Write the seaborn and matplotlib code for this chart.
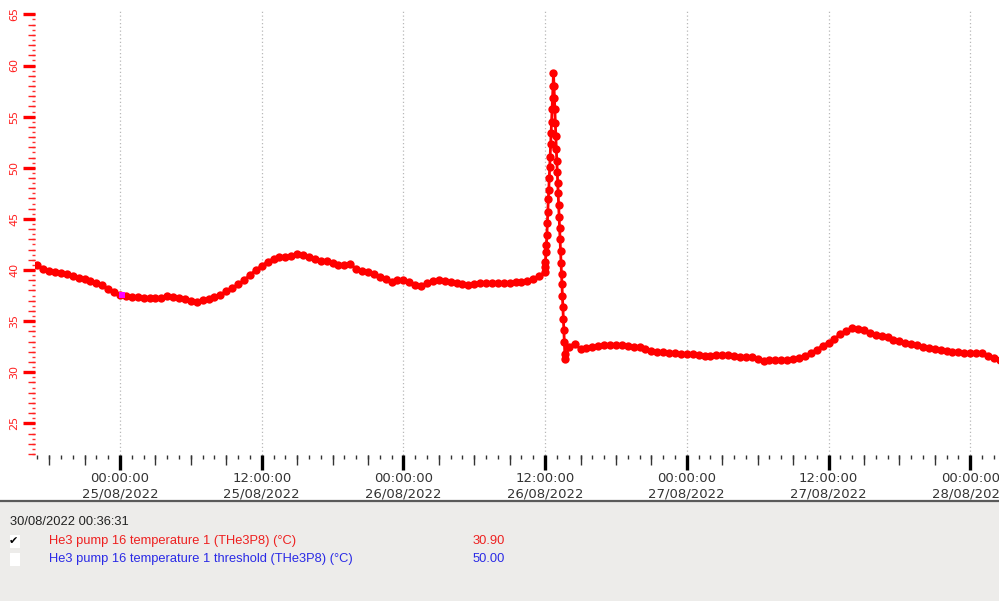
import numpy as np
import pandas as pd
import matplotlib
matplotlib.use("Agg")
import matplotlib.pyplot as plt
import seaborn as sns
from matplotlib.ticker import MultipleLocator, FuncFormatter, NullFormatter
from matplotlib.patches import Rectangle
from matplotlib.lines import Line2D
from datetime import timedelta

# ---------------- data ----------------
REF = pd.Timestamp("2022-08-25 00:00:00")

pre_start = "2022-08-24 17:00"   # 30-min readings before the spike
pre_temp = [40.5, 40.1, 39.9, 39.8, 39.7, 39.6, 39.4, 39.2, 39.1, 38.9, 38.7, 38.5, 38.1, 37.8,
            37.6, 37.5, 37.4, 37.35, 37.3, 37.3, 37.25, 37.3, 37.5, 37.4, 37.3, 37.2, 37.0, 36.9,
            37.1, 37.2, 37.4, 37.6, 37.9, 38.2, 38.6, 39.0, 39.5, 40.0, 40.4, 40.8, 41.1, 41.3,
            41.3, 41.4, 41.6, 41.5, 41.3, 41.1, 40.9, 40.9, 40.7, 40.5, 40.5, 40.6, 40.1, 39.9,
            39.8, 39.6, 39.3, 39.1, 38.8, 39.0, 39.0, 38.8, 38.5, 38.4, 38.7, 38.9, 39.0, 38.9,
            38.8, 38.7, 38.6, 38.5, 38.6, 38.7, 38.7, 38.7, 38.7, 38.7, 38.7, 38.8, 38.8, 38.9,
            39.1, 39.4]

spike_start = "2022-08-26 11:57"  # fast readings during the spike
spike_temp = [39.8, 40.3, 40.8, 41.8, 42.45, 43.4, 44.6, 45.7, 46.9, 47.8, 49.0, 50.1, 51.1,
              52.3, 53.4, 54.5, 55.7, 56.8, 58.0, 59.3, 58.0, 56.8, 55.7, 54.4, 53.1, 51.8,
              50.7, 49.6, 48.5, 47.5, 46.4, 45.2, 44.1, 43.0, 41.9, 40.7, 39.6, 38.6, 37.5,
              36.4, 35.2, 34.1, 33.0, 31.8, 31.3]

post_start = "2022-08-26 14:00"  # 30-min readings after the spike
post_temp = [32.5, 32.8, 32.25, 32.4, 32.5, 32.6, 32.65, 32.7, 32.65, 32.65, 32.6, 32.5,
             32.45, 32.3, 32.1, 32.0, 31.95, 31.9, 31.85, 31.8, 31.75, 31.75, 31.7, 31.6,
             31.6, 31.65, 31.7, 31.7, 31.6, 31.5, 31.5, 31.5, 31.3, 31.1, 31.2, 31.2, 31.2,
             31.2, 31.3, 31.4, 31.6, 31.9, 32.2, 32.6, 32.9, 33.3, 33.7, 34.0, 34.3, 34.2,
             34.1, 33.8, 33.6, 33.5, 33.4, 33.2, 33.1, 32.9, 32.8, 32.65, 32.5, 32.4, 32.3,
             32.2, 32.1, 32.0, 31.95, 31.9, 31.85, 31.85, 31.85, 31.6, 31.4, 31.2]

cursor_time = "2022-08-25 00:10"
cursor_value = 37.6

timestamp_text = "30/08/2022 00:36:31"
series_names = ["He3 pump 16 temperature 1 (THe3P8) (°C)",
                "He3 pump 16 temperature 1 threshold (THe3P8) (°C)"]
series_values = ["30.90", "50.00"]

# ---------------- build frame ----------------
def hours(ts):
    return (pd.DatetimeIndex(ts) - REF) / pd.Timedelta(hours=1)

t_pre = pd.date_range(pre_start, periods=len(pre_temp), freq="30min")
t_spk = pd.date_range(spike_start, periods=len(spike_temp), freq="144s")
t_post = pd.date_range(post_start, periods=len(post_temp), freq="30min")

df = pd.DataFrame({
    "t": np.concatenate([hours(t_pre), hours(t_spk), hours(t_post)]),
    "temp": pre_temp + spike_temp + post_temp,
})

# ---------------- figure ----------------
sns.set_style("white")
plt.rcParams["font.family"] = ["DejaVu Sans"]
plt.rcParams["xtick.bottom"] = True
plt.rcParams["ytick.left"] = True

W, H = 999, 601
fig = plt.figure(figsize=(W / 100, H / 100), dpi=100)
fig.patch.set_facecolor("white")

# bottom grey panel
fig.patches.append(Rectangle((0, 0), 1, 1 - 502 / H, transform=fig.transFigure,
                             facecolor="#edecea", edgecolor="none", zorder=0))
fig.lines.append(Line2D([0, 1], [1 - 501 / H, 1 - 501 / H], transform=fig.transFigure,
                        color="#5a5a5a", linewidth=1.6, zorder=1))

ax = fig.add_axes([35 / W, 1 - 455 / H, (W - 35) / W, (455 - 10) / H])
ax.set_facecolor("white")

sns.lineplot(data=df, x="t", y="temp", ax=ax, color="#ff0000", linewidth=2.0,
             marker="o", markersize=6.0, markeredgewidth=0, estimator=None,
             sort=False, zorder=3)
ax.scatter([hours([pd.Timestamp(cursor_time)])[0]], [cursor_value], marker="s",
           s=16, color="#ff00ff", zorder=4, linewidths=0)

px_per_h = 141.7 / 12
ax.set_xlim((35 - 120) / px_per_h, (999 - 120) / px_per_h)
ax.set_ylim(40 - (455 - 270) / 10.225, 40 + (270 - 10) / 10.225)
ax.set_xlabel("")
ax.set_ylabel("")
for s in ax.spines.values():
    s.set_visible(False)

# x ticks
def fmt_time(x, pos):
    d = REF.to_pydatetime() + timedelta(hours=float(x))
    return d.strftime("%H:%M:%S\n%d/%m/%Y")

ax.xaxis.set_major_locator(MultipleLocator(12))
ax.xaxis.set_major_formatter(FuncFormatter(fmt_time))
ax.xaxis.set_minor_locator(MultipleLocator(3))
ax.tick_params(axis="x", which="both", bottom=True)
ax.tick_params(axis="x", which="major", direction="out", length=10.8, width=2.4,
               color="black", labelsize=9.5, labelcolor="#333333", pad=1.5)
ax.tick_params(axis="x", which="minor", direction="out", length=7.0, width=1.0,
               color="#333333")

secx = ax.secondary_xaxis("bottom")
secx.xaxis.set_major_locator(MultipleLocator(1))
secx.xaxis.set_major_formatter(NullFormatter())
secx.tick_params(axis="x", bottom=True, direction="out", length=2.8, width=1.0,
                 color="#333333")
for s in secx.spines.values():
    s.set_visible(False)

# y ticks
ax.yaxis.set_major_locator(MultipleLocator(5))
ax.yaxis.set_minor_locator(MultipleLocator(1))
ax.tick_params(axis="y", which="both", left=True)
ax.tick_params(axis="y", which="major", direction="out", length=8.6, width=2.4,
               color="#ff0000", labelsize=8.0, labelcolor="#ff2020", pad=2.5)
ax.tick_params(axis="y", which="minor", direction="out", length=5.0, width=1.0,
               color="#ff2020")
for lab in ax.get_yticklabels():
    lab.set_rotation(90)
    lab.set_va("center")

secy = ax.secondary_yaxis("left")
secy.yaxis.set_major_locator(MultipleLocator(0.5))
secy.yaxis.set_major_formatter(NullFormatter())
secy.tick_params(axis="y", left=True, direction="out", length=2.2, width=1.0,
                 color="#ff3030")
for s in secy.spines.values():
    s.set_visible(False)

ax.xaxis.grid(True, which="major", color="#b8b8b8", linestyle=(0, (1, 2)), linewidth=0.9)
ax.xaxis.grid(False, which="minor")
ax.yaxis.grid(False, which="both")
ax.set_axisbelow(True)

# ---------------- panel texts ----------------
pfam = ["Liberation Sans", "DejaVu Sans"]
fig.text(10 / W, 1 - 522 / H, timestamp_text, fontsize=9.3, color="#222222",
         family=pfam, va="center", ha="left")

for yy in (541, 559):
    fig.patches.append(Rectangle((10 / W, 1 - (yy + 7) / H), 10 / W, 13 / H,
                                 transform=fig.transFigure, facecolor="white",
                                 edgecolor="none", zorder=1))
fig.text(9 / W, 1 - 541 / H, "✔", fontsize=8, color="black", family=["DejaVu Sans"],
         va="center", ha="left")

colors = ["#ee2020", "#2a2ae6"]
for i, (name, val, c) in enumerate(zip(series_names, series_values, colors)):
    yy = 541 + 18 * i
    fig.text(49 / W, 1 - yy / H, name, fontsize=9.3, color=c, family=pfam,
             va="center", ha="left")
    fig.text(505 / W, 1 - yy / H, val, fontsize=9.3, color=c, family=pfam,
             va="center", ha="right")

fig.savefig("out.png", dpi=100)
